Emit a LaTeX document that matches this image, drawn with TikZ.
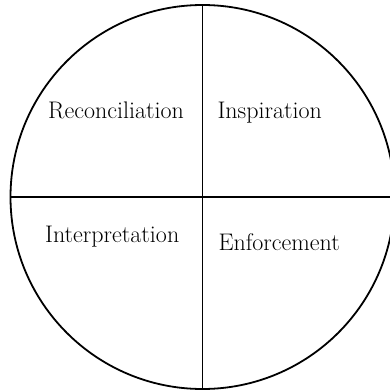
\documentclass[tikz,border=0pt]{standalone}
\usepackage{fontspec}
\begin{document}
\begin{tikzpicture}[x=1pt,y=-1pt,
  lbl/.style={anchor=base west,inner sep=0pt,font=\fontsize{24}{28}\selectfont},
  ln/.style={line width=1.8pt,black}]
\useasboundingbox (0,0) rectangle (389,390);
\coordinate (c) at (202.5,197);
\draw[ln] (c) circle[radius=192];
\coordinate (top) at (202.5,5);
\coordinate (bot) at (202.5,389);
\coordinate (lft) at (10.5,197);
\coordinate (rgt) at (394.5,197);
\draw[ln] (top) -- (bot);
\draw[ln] (lft) -- (rgt);
\node[lbl] (rec) at (48,118.3) {Reconciliation};
\node[lbl] (ins) at (217.3,118.3) {Inspiration};
\node[lbl] (int) at (45,242.7) {Interpretation};
\node[lbl] (enf) at (218.3,250.7) {Enforcement};
\end{tikzpicture}
\end{document}
